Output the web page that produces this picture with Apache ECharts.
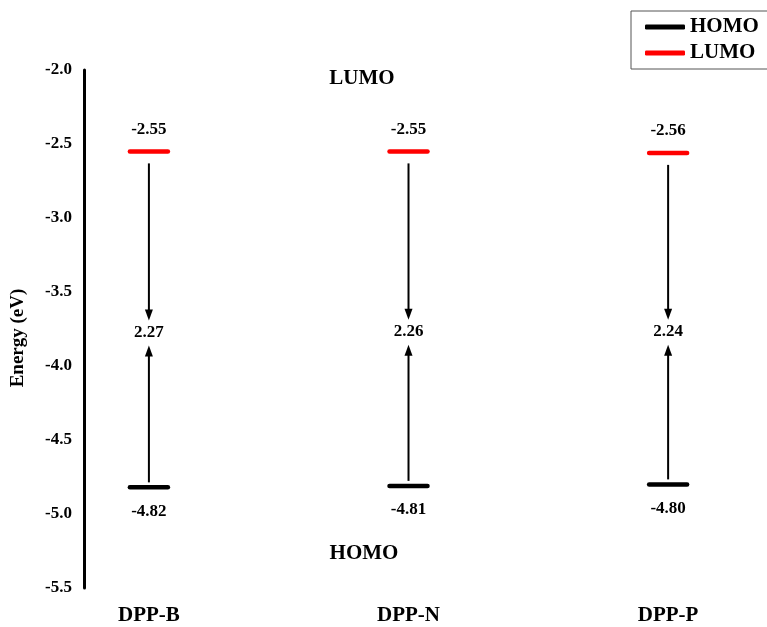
<!DOCTYPE html>
<html>
<head>
<meta charset="utf-8">
<script src="https://cdn.jsdelivr.net/npm/echarts@6/dist/echarts.min.js"></script>
<style>html,body{margin:0;padding:0;background:#fff}#c{width:767px;height:627px}</style>
</head>
<body>
<div id="c"></div>
<script>
var categories = ['DPP-B', 'DPP-N', 'DPP-P'];
var lumo = [-2.55, -2.55, -2.56];
var homo = [-4.82, -4.81, -4.80];
var gap = [2.27, 2.26, 2.24];
var yTicks = [-5.5, -5.0, -4.5, -4.0, -3.5, -3.0, -2.5, -2.0];

var FONT = "'Liberation Serif','Times New Roman',serif";

var chart = echarts.init(document.getElementById('c'));

function levelItem(color, above) {
  return function (params, api) {
    var p = api.coord([api.value(0), api.value(1)]);
    var v = api.value(1);
    return {
      type: 'group',
      children: [
        { type: 'line', shape: { x1: p[0] - 19, y1: p[1], x2: p[0] + 19, y2: p[1] },
          style: { stroke: color, lineWidth: 4.5, lineCap: 'round' } },
        { type: 'text', x: p[0], y: p[1] + (above ? -22 : 24),
          style: { text: v.toFixed(2), font: 'bold 17px ' + FONT, fill: '#000',
                   align: 'center', verticalAlign: 'middle' } }
      ]
    };
  };
}

function arrowItem(params, api) {
  var x = api.value(0);
  var pl = api.coord([x, api.value(1)]);
  var ph = api.coord([x, api.value(2)]);
  var g = api.value(3);
  var cx = pl[0];
  var mid = (pl[1] + ph[1]) / 2 + 13;
  var downTip = mid - 12, upTip = mid + 13;
  var ah = 11, aw = 4;
  return {
    type: 'group',
    children: [
      { type: 'line', shape: { x1: cx, y1: pl[1] + 12, x2: cx, y2: downTip - ah + 1 },
        style: { stroke: '#000', lineWidth: 2 } },
      { type: 'polygon', shape: { points: [[cx - aw, downTip - ah], [cx + aw, downTip - ah], [cx, downTip]] },
        style: { fill: '#000' } },
      { type: 'line', shape: { x1: cx, y1: ph[1] - 5, x2: cx, y2: upTip + ah - 1 },
        style: { stroke: '#000', lineWidth: 2 } },
      { type: 'polygon', shape: { points: [[cx - aw, upTip + ah], [cx + aw, upTip + ah], [cx, upTip]] },
        style: { fill: '#000' } },
      { type: 'text', x: cx, y: mid,
        style: { text: g.toFixed(2), font: 'bold 17px ' + FONT, fill: '#000',
                 align: 'center', verticalAlign: 'middle' } }
    ]
  };
}

var homoData = homo.map(function (v, i) { return [i + 1, v]; });
var lumoData = lumo.map(function (v, i) { return [i + 1, v]; });
var arrowData = categories.map(function (c, i) { return [i + 1, lumo[i], homo[i], gap[i]]; });

chart.setOption({
  animation: false,
  backgroundColor: '#fff',
  grid: { left: 84, right: 21, top: 70, bottom: 39, containLabel: false, outerBoundsMode: 'none' },
  legend: {
    orient: 'vertical',
    left: 631, top: 11,
    padding: [5, 30, 5, 14],
    borderColor: '#555', borderWidth: 1,
    itemWidth: 40, itemHeight: 5, itemGap: 4,
    textStyle: { fontFamily: FONT, fontWeight: 'bold', fontSize: 21, color: '#000', lineHeight: 22, padding: [0, 0, 0, 0] },
    data: [
      { name: 'HOMO', icon: 'roundRect', itemStyle: { color: '#000' } },
      { name: 'LUMO', icon: 'roundRect', itemStyle: { color: '#ff0000' } }
    ]
  },
  xAxis: {
    type: 'value', min: 0.75, max: 3.3,
    axisLine: { show: false }, axisTick: { show: false }, splitLine: { show: false },
    axisLabel: {
      customValues: [1, 2, 3],
      formatter: function (v) { return categories[Math.round(v) - 1] || ''; },
      fontFamily: FONT, fontWeight: 'bold', fontSize: 21, color: '#000', margin: 17
    }
  },
  yAxis: {
    type: 'value', min: -5.5, max: -2.0, interval: 0.5,
    axisLine: { show: true, lineStyle: { color: '#000', width: 3 } },
    axisTick: { show: false }, splitLine: { show: false },
    axisLabel: {
      customValues: yTicks,
      formatter: function (v) { return v.toFixed(1); },
      fontFamily: FONT, fontWeight: 'bold', fontSize: 17, color: '#000', margin: 12
    }
  },
  graphic: [
    { type: 'text', x: 362, y: 79, style: { text: 'LUMO', font: 'bold 21px ' + FONT, fill: '#000', align: 'center', verticalAlign: 'middle' } },
    { type: 'text', x: 364, y: 554, style: { text: 'HOMO', font: 'bold 21px ' + FONT, fill: '#000', align: 'center', verticalAlign: 'middle' } },
    { type: 'text', x: 18, y: 338, rotation: Math.PI / 2, style: { text: 'Energy (eV)', font: 'bold 19px ' + FONT, fill: '#000', align: 'center', verticalAlign: 'middle' } }
  ],
  series: [
    { name: 'HOMO', type: 'custom', renderItem: levelItem('#000', false), data: homoData, color: '#000', z: 3 },
    { name: 'LUMO', type: 'custom', renderItem: levelItem('#ff0000', true), data: lumoData, color: '#ff0000', z: 3 },
    { name: 'gap', type: 'custom', renderItem: arrowItem, data: arrowData, z: 2 }
  ]
});
</script>
</body>
</html>
